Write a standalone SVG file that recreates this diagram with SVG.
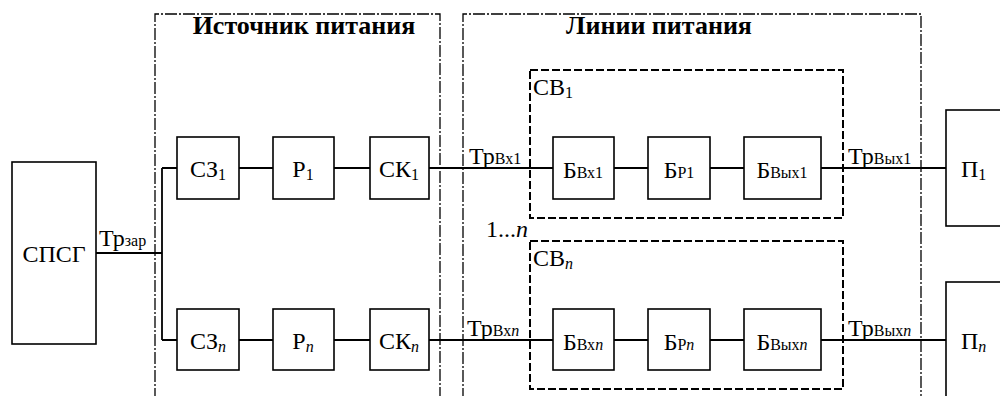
<svg xmlns="http://www.w3.org/2000/svg" width="1000" height="396" viewBox="0 0 1000 396">
<style>
.box{fill:#fff;stroke:#000;stroke-width:1.6}
.grp{fill:none;stroke:#000;stroke-width:1.3;stroke-dasharray:12 2 2 2}
.sub{fill:none;stroke:#000;stroke-width:2;stroke-dasharray:8 3}
.ln{fill:none;stroke:#000;stroke-width:1.8}
text{font-family:"Liberation Serif","Times New Roman","DejaVu Serif",serif;fill:#000}
.t{font-size:24px}
.s{font-size:16px}
.h{font-size:26px;font-weight:bold}
</style>
<rect width="1000" height="396" fill="#fff"/>
<g id="group-source">
<path class="grp" d="M155,400 V14 H440 V400"/>
<text class="h" x="304" y="34" text-anchor="middle">Источник питания</text>
</g>
<g id="group-lines">
<path class="grp" d="M463,400 V14 H921 V400"/>
<text class="h" x="659" y="34" text-anchor="middle">Линии питания</text>
</g>
<g id="group-cb1">
<rect class="sub" x="530" y="70" width="313" height="148"/>
<text class="t" x="533" y="95">СВ<tspan class="s" dy="3">1</tspan></text>
</g>
<g id="group-cbn">
<rect class="sub" x="530" y="241" width="313" height="148"/>
<text class="t" x="533" y="266">СВ<tspan class="s" dy="3" font-style="italic">n</tspan></text>
</g>
<text class="t" x="486" y="237">1...<tspan font-style="italic">n</tspan></text>
<g id="connectors">
<path class="ln" d="M96,253 H162 M162,168 V340 M162,168 H177 M162,340 H177"/>
<path class="ln" d="M239,168 H273 M334,168 H370 M429,168 H553 M614,168 H648 M710,168 H744 M821,168 H946"/>
<path class="ln" d="M239,340 H273 M334,340 H370 M429,340 H553 M614,340 H648 M710,340 H744 M821,340 H946"/>
<text class="t" x="99" y="246">Тр<tspan class="s">зар</tspan></text>
<text class="t" x="469" y="164">Тр<tspan class="s">Вх1</tspan></text>
<text class="t" x="467" y="336">Тр<tspan class="s">Вх<tspan font-style="italic">n</tspan></tspan></text>
<text class="t" x="848" y="164">Тр<tspan class="s">Вых1</tspan></text>
<text class="t" x="848" y="336">Тр<tspan class="s">Вых<tspan font-style="italic">n</tspan></tspan></text>
</g>
<g id="spsg">
<rect class="box" x="12" y="162" width="84" height="182"/>
<text class="t" x="54" y="262" text-anchor="middle">СПСГ</text>
</g>
<g id="sz1"><rect class="box" x="177" y="137" width="62" height="62"/><text class="t" x="208" y="177" text-anchor="middle">СЗ<tspan class="s" dy="3">1</tspan></text></g>
<g id="p1"><rect class="box" x="273" y="137" width="61" height="62"/><text class="t" x="303" y="177" text-anchor="middle">Р<tspan class="s" dy="3">1</tspan></text></g>
<g id="sk1"><rect class="box" x="370" y="137" width="59" height="62"/><text class="t" x="399" y="177" text-anchor="middle">СК<tspan class="s" dy="3">1</tspan></text></g>
<g id="bvx1"><rect class="box" x="553" y="137" width="61" height="62"/><text class="t" x="583" y="178" text-anchor="middle">Б<tspan class="s">Вх1</tspan></text></g>
<g id="bp1"><rect class="box" x="648" y="137" width="62" height="62"/><text class="t" x="679" y="178" text-anchor="middle">Б<tspan class="s">Р1</tspan></text></g>
<g id="bvyx1"><rect class="box" x="744" y="137" width="77" height="62"/><text class="t" x="782" y="178" text-anchor="middle">Б<tspan class="s">Вых1</tspan></text></g>
<g id="pn1"><rect class="box" x="946" y="110" width="60" height="116"/><text class="t" x="961" y="177">П<tspan class="s" dy="3">1</tspan></text></g>
<g id="szn"><rect class="box" x="177" y="309" width="62" height="61"/><text class="t" x="208" y="349" text-anchor="middle">СЗ<tspan class="s" dy="3" font-style="italic">n</tspan></text></g>
<g id="pn"><rect class="box" x="273" y="309" width="61" height="61"/><text class="t" x="303" y="349" text-anchor="middle">Р<tspan class="s" dy="3" font-style="italic">n</tspan></text></g>
<g id="skn"><rect class="box" x="370" y="309" width="59" height="61"/><text class="t" x="399" y="349" text-anchor="middle">СК<tspan class="s" dy="3" font-style="italic">n</tspan></text></g>
<g id="bvxn"><rect class="box" x="553" y="309" width="61" height="61"/><text class="t" x="583" y="350" text-anchor="middle">Б<tspan class="s">Вх<tspan font-style="italic">n</tspan></tspan></text></g>
<g id="bpn"><rect class="box" x="648" y="309" width="62" height="61"/><text class="t" x="679" y="350" text-anchor="middle">Б<tspan class="s">Р<tspan font-style="italic">n</tspan></tspan></text></g>
<g id="bvyxn"><rect class="box" x="744" y="309" width="77" height="61"/><text class="t" x="782" y="350" text-anchor="middle">Б<tspan class="s">Вых<tspan font-style="italic">n</tspan></tspan></text></g>
<g id="pnn"><rect class="box" x="946" y="282" width="60" height="130"/><text class="t" x="961" y="349">П<tspan class="s" dy="3" font-style="italic">n</tspan></text></g>
</svg>
